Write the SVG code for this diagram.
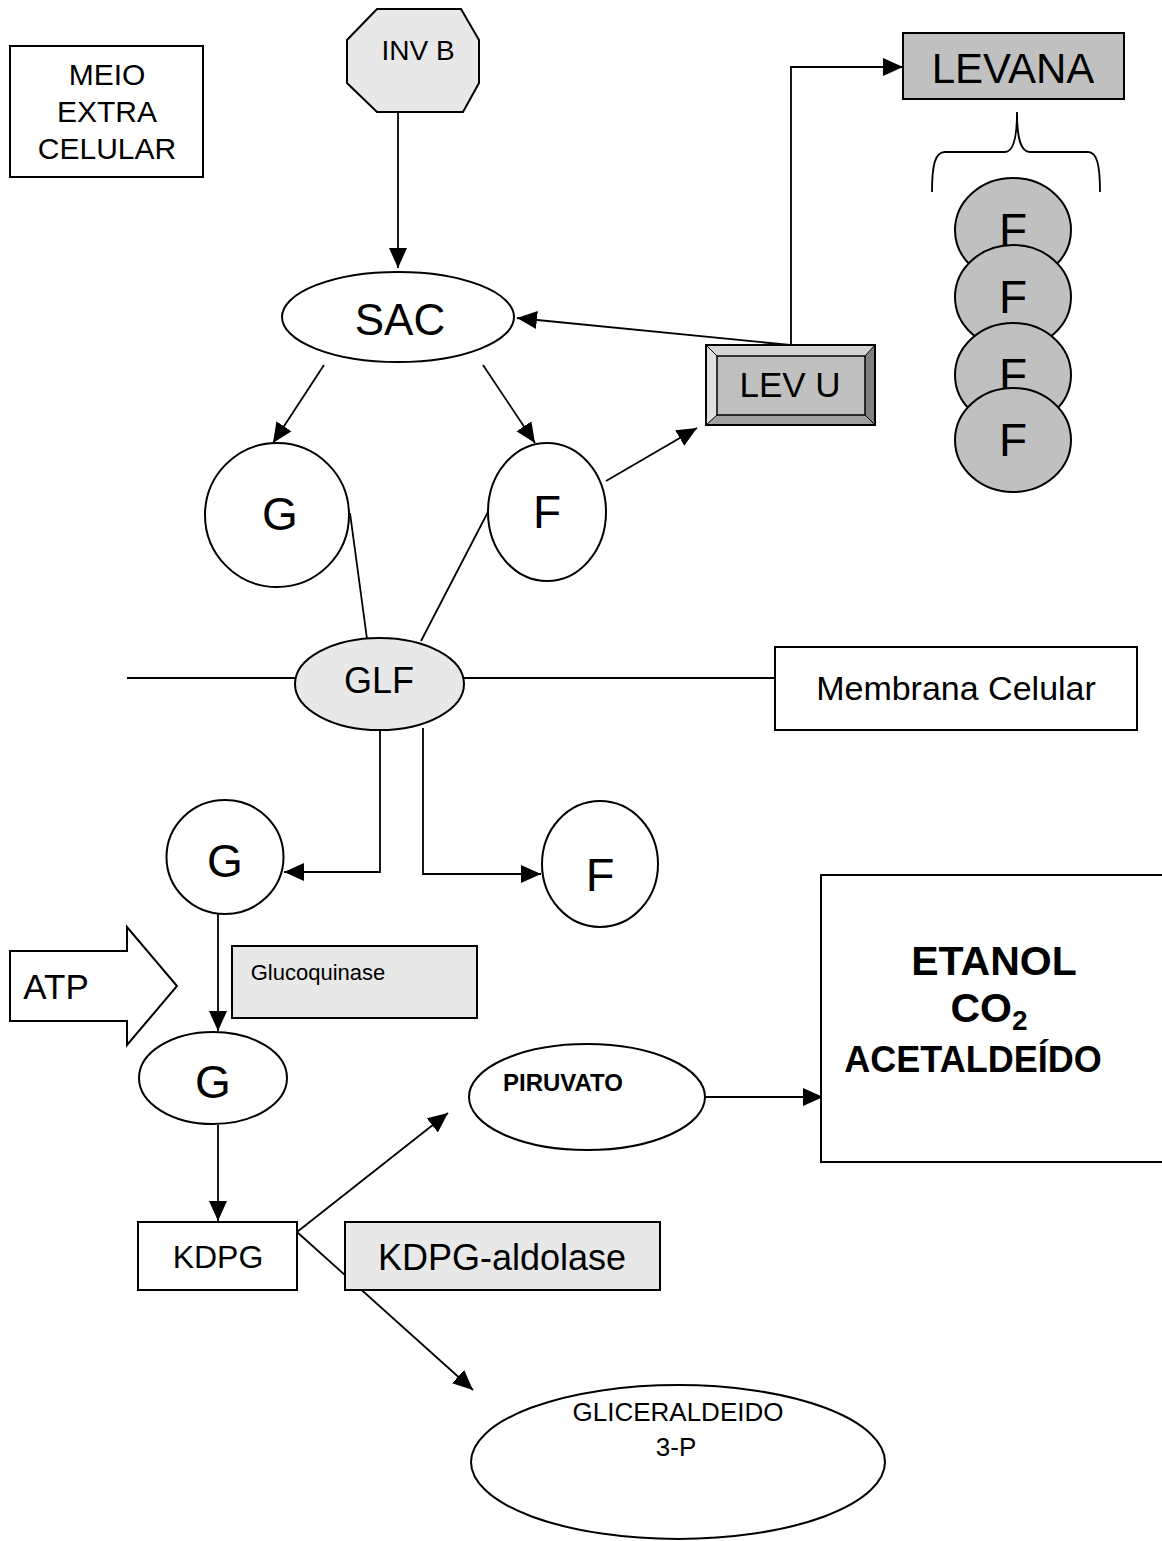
<svg xmlns="http://www.w3.org/2000/svg" width="1162" height="1541" viewBox="0 0 1162 1541">
<defs>
<marker id="ah" markerUnits="userSpaceOnUse" markerWidth="20" markerHeight="20" refX="20" refY="10" orient="auto">
<path d="M0,1 L20,10 L0,19 z" fill="#000"/>
</marker>
<style>
text{font-family:"Liberation Sans",Arial,sans-serif;fill:#000;text-anchor:middle}
.s{stroke:#000;stroke-width:2}
.c{stroke:#000;stroke-width:1.8;fill:none}
.a{marker-end:url(#ah)}
.w{fill:#fff}
.lg{fill:#e8e8e8}
.g{fill:#c0c0c0}
.b{font-weight:bold}
</style>
</defs>
<rect width="1162" height="1541" fill="#fff"/>
<g id="connectors">
<line class="c a" x1="398" y1="112" x2="398" y2="268"/>
<polyline class="c a" points="791,345 791,67 903,67"/>
<line class="c a" x1="790" y1="345" x2="517" y2="318"/>
<line class="c a" x1="324" y1="365" x2="273" y2="443"/>
<line class="c a" x1="483" y1="365" x2="535" y2="443"/>
<line class="c a" x1="606" y1="481" x2="697" y2="428"/>
<line class="c" x1="350" y1="513" x2="367" y2="639"/>
<polyline class="c" points="489,503 489,510 421,641"/>
<line class="c" x1="127" y1="678" x2="296" y2="678"/>
<line class="c" x1="463" y1="678" x2="775" y2="678"/>
<polyline class="c a" points="380,728 380,872 284,872"/>
<polyline class="c a" points="423,728 423,874 541,874"/>
<line class="c a" x1="218" y1="914" x2="218" y2="1031"/>
<line class="c a" x1="218" y1="1125" x2="218" y2="1221"/>
<line class="c a" x1="297" y1="1232" x2="448" y2="1113"/>
<line class="c a" x1="297" y1="1232" x2="473" y2="1390"/>
<line class="c a" x1="706" y1="1097" x2="823" y2="1097"/>
<path class="c" d="M932,192 C932,165 935,152 945,152 L1005,152 C1013,152 1017,140 1017,112 C1017,140 1021,152 1030,152 L1088,152 C1097,152 1100,165 1100,192"/>
</g>
<g id="meio"><rect class="s w" x="10" y="46" width="193" height="131"/>
<text x="107" y="85" font-size="30">MEIO</text><text x="107" y="122" font-size="30">EXTRA</text><text x="107" y="159" font-size="30">CELULAR</text></g>
<g id="invb"><polygon class="s lg" points="377,9 461,9 479,40 479,83 463,112 377,112 347,83 347,40"/>
<text x="418" y="60" font-size="28">INV B</text></g>
<g id="levana"><rect class="s g" x="903" y="33" width="221" height="66"/>
<text x="1013" y="83" font-size="42">LEVANA</text></g>
<g id="sac"><ellipse class="s w" cx="398" cy="317" rx="116" ry="45"/>
<text x="400" y="335" font-size="44">SAC</text></g>
<g id="levu">
<rect x="706" y="345" width="169" height="80" fill="#c0c0c0"/>
<polygon points="706,345 875,345 865,356 717,356" fill="#d4d4d4"/>
<polygon points="706,345 717,356 717,415 706,425" fill="#e0e0e0"/>
<polygon points="875,345 875,425 865,415 865,356" fill="#808080"/>
<polygon points="706,425 717,415 865,415 875,425" fill="#a0a0a0"/>
<rect x="706" y="345" width="169" height="80" fill="none" stroke="#000" stroke-width="2"/>
<rect x="717" y="356" width="148" height="59" fill="none" stroke="#000" stroke-width="1.5"/>
<line x1="706" y1="345" x2="717" y2="356" stroke="#000" stroke-width="1"/>
<line x1="875" y1="345" x2="865" y2="356" stroke="#000" stroke-width="1"/>
<line x1="706" y1="425" x2="717" y2="415" stroke="#000" stroke-width="1"/>
<line x1="875" y1="425" x2="865" y2="415" stroke="#000" stroke-width="1"/>
<text x="790" y="397" font-size="35">LEV U</text></g>
<g id="fchain">
<ellipse class="s g" cx="1013" cy="230" rx="58" ry="52"/><text x="1013" y="246" font-size="46">F</text>
<ellipse class="s g" cx="1013" cy="297" rx="58" ry="52"/><text x="1013" y="313" font-size="46">F</text>
<ellipse class="s g" cx="1013" cy="375" rx="58" ry="52"/><text x="1013" y="391" font-size="46">F</text>
<ellipse class="s g" cx="1013" cy="440" rx="58" ry="52"/><text x="1013" y="456" font-size="46">F</text>
</g>
<g id="g1"><ellipse class="s w" cx="277" cy="515" rx="72" ry="72"/><text x="280" y="530" font-size="46">G</text></g>
<g id="f1"><ellipse class="s w" cx="547" cy="512" rx="59" ry="69"/><text x="547" y="528" font-size="46">F</text></g>
<g id="glf"><ellipse class="s lg" cx="379.5" cy="684" rx="84.5" ry="46"/><text x="379" y="693" font-size="36">GLF</text></g>
<g id="membrana"><rect class="s w" x="775" y="647" width="362" height="83"/><text x="956" y="700" font-size="34">Membrana Celular</text></g>
<g id="g2"><ellipse class="s w" cx="225" cy="857" rx="58.5" ry="57"/><text x="225" y="877" font-size="46">G</text></g>
<g id="f2"><ellipse class="s w" cx="600" cy="864" rx="58" ry="63"/><text x="600" y="891" font-size="47">F</text></g>
<g id="atp"><polygon class="s w" points="10,951 127,951 127,927 177,986 127,1045 127,1021 10,1021"/><text x="56" y="999" font-size="35">ATP</text></g>
<g id="glucoquinase"><rect class="s lg" x="232" y="946" width="245" height="72"/><text x="318" y="980" font-size="22">Glucoquinase</text></g>
<g id="g3"><ellipse class="s w" cx="213" cy="1078" rx="74" ry="46"/><text x="213" y="1098" font-size="46">G</text></g>
<g id="piruvato"><ellipse class="s w" cx="587" cy="1097" rx="118" ry="53"/><text class="b" x="563" y="1091" font-size="24">PIRUVATO</text></g>
<g id="etanol"><rect class="s w" x="821" y="875" width="360" height="287"/>
<text class="b" x="994" y="975" font-size="41">ETANOL</text>
<text class="b" x="989" y="1022" font-size="41">CO<tspan font-size="28" dy="8">2</tspan></text>
<text class="b" x="973" y="1072" font-size="36">ACETALDEÍDO</text></g>
<g id="kdpg"><rect class="s w" x="138" y="1222" width="159" height="68"/><text x="218" y="1268" font-size="32">KDPG</text></g>
<g id="kdpgaldolase"><rect class="s lg" x="345" y="1222" width="315" height="68"/><text x="502" y="1270" font-size="36">KDPG-aldolase</text></g>
<g id="gliceraldeido"><ellipse class="s w" cx="678" cy="1462" rx="207" ry="77"/><text x="678" y="1421" font-size="26">GLICERALDEIDO</text><text x="676" y="1456" font-size="26">3-P</text></g>
</svg>
